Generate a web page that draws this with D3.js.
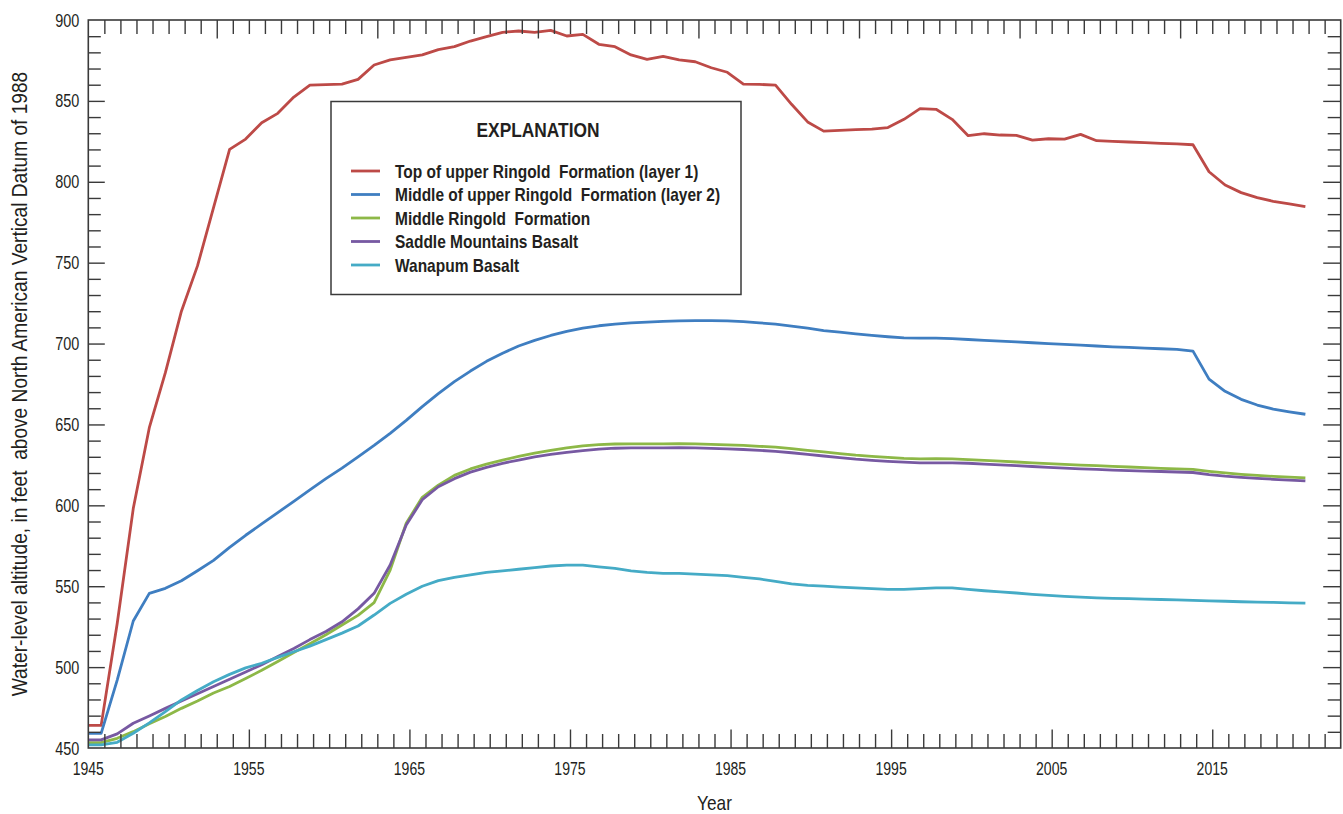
<!DOCTYPE html>
<html>
<head>
<meta charset="utf-8">
<script src="https://cdn.jsdelivr.net/npm/d3@7"></script>
<style>
  html, body { margin: 0; padding: 0; background: #fff; }
  svg { display: block; }
  .lbl { font-family: "Liberation Sans", Arial, sans-serif; fill: #231f20; white-space: pre; }
</style>
</head>
<body>
<svg id="chart" width="1343" height="814"></svg>
<script>
// Annual water-level altitudes (feet, NAVD 88), one value per year 1944-2020.
const years = d3.range(1944, 2021);

const topUpperRingold = [
  464, 464, 527, 598, 648, 682, 720, 748, 784, 820,
  826.4, 836.5, 842.3, 852.4, 859.8, 860, 860.4, 863.3, 872.2, 875.3,
  876.9, 878.4, 881.7, 883.5, 887, 889.7, 892.4, 893.2, 892.4, 893.6,
  890.1, 891.1, 885, 883.5, 878.4, 875.7, 877.5, 875.3, 874.2, 870.5,
  867.7, 860.4, 860.2, 859.8, 847.9, 837, 831.3, 831.8, 832.2, 832.6,
  833.5, 838.6, 845.2, 844.8, 838.6, 828.5, 829.7, 828.9, 828.7, 825.8,
  826.6, 826.4, 829.3, 825.4, 825, 824.6, 824.2, 823.8, 823.4, 822.9,
  806.2, 798, 793.3, 790.2, 787.9, 786.3, 784.6
];

const middleUpperRingold = [
  459, 459, 492, 528.5, 545.6, 548.7, 553.4, 559.6, 566, 574,
  581.5, 588.5, 595.5, 602.5, 609.5, 616.5, 623, 630, 637, 644.5,
  652.5, 661, 669, 676.5, 683, 689, 694, 698.5, 702, 705,
  707.5, 709.5, 711, 712, 712.8, 713.3, 713.7, 714, 714.2, 714.2,
  714, 713.5, 712.8, 712, 710.8, 709.5, 708, 707, 706, 705,
  704.2, 703.5, 703.3, 703.3, 703, 702.5, 702, 701.5, 701, 700.5,
  700, 699.5, 699, 698.5, 698, 697.6, 697.2, 696.8, 696.4, 695.3,
  678, 670.5, 665.5, 662, 659.5, 657.8, 656.3
];

const middleRingold = [
  453.3, 453.3, 456, 460.1, 465, 469.5, 474.5, 479, 484, 488,
  493, 498, 503.5, 509, 514.5, 520, 526, 532, 539.8, 560,
  588.9, 605, 612.5, 618.5, 622.5, 625.5, 628, 630.2, 632.2, 634,
  635.5, 636.8, 637.5, 637.9, 638, 638, 638, 638.2, 638, 637.7,
  637.4, 637, 636.5, 636, 635, 634, 633, 632, 631, 630.3,
  629.6, 629, 628.7, 628.8, 628.7, 628.3, 627.8, 627.3, 626.8, 626.3,
  625.8, 625.3, 624.8, 624.5, 624.1, 623.7, 623.3, 622.9, 622.5, 622.2,
  621, 620, 619.2, 618.5, 617.9, 617.4, 617
];

const saddleMountains = [
  455, 455, 458.7, 465.3, 469.8, 474.5, 479, 483.5, 488, 492.5,
  497, 501.5, 506.5, 511.5, 517, 522, 528, 536, 545.6, 563.1,
  587.8, 603.5, 611.5, 616.5, 620.5, 623.5, 626, 628, 630, 631.5,
  632.8, 633.8, 634.8, 635.3, 635.5, 635.5, 635.5, 635.6, 635.5, 635.2,
  634.9, 634.5, 634, 633.3, 632.5, 631.5, 630.5, 629.5, 628.5, 627.8,
  627.2, 626.7, 626.3, 626.3, 626.2, 626, 625.5, 625, 624.5, 624,
  623.5, 623, 622.5, 622.2, 621.8, 621.5, 621.2, 620.9, 620.6, 620.3,
  619, 618, 617.3, 616.7, 616.1, 615.6, 615.1
];

const wanapum = [
  451.9, 451.9, 453.5, 459.1, 465.5, 472.5, 479.7, 485.5, 491, 495.5,
  499.5, 502.4, 506, 509.5, 513, 517, 521, 525.4, 532.2, 539.4,
  545, 550, 553.5, 555.5, 557, 558.5, 559.5, 560.5, 561.5, 562.5,
  563, 563, 562, 561, 559.5, 558.5, 558, 558, 557.5, 557,
  556.5, 555.5, 554.5, 553, 551.5, 550.5, 550, 549.5, 549, 548.5,
  548, 548, 548.5, 549, 549, 548, 547.2, 546.5, 545.8, 545,
  544.3, 543.7, 543.2, 542.8, 542.5, 542.3, 542, 541.8, 541.5, 541.2,
  541, 540.7, 540.4, 540.2, 540, 539.7, 539.5
];

const seriesNames = [
  "Top of upper Ringold  Formation (layer 1)",
  "Middle of upper Ringold  Formation (layer 2)",
  "Middle Ringold  Formation",
  "Saddle Mountains Basalt",
  "Wanapum Basalt"
];
const seriesValues = [topUpperRingold, middleUpperRingold, middleRingold, saddleMountains, wanapum];
const seriesColors = ["#bd4a47", "#3f7ec1", "#8db847", "#7759a2", "#45abc6"];

const yTicks = [450, 500, 550, 600, 650, 700, 750, 800, 850, 900];
const xTickLabels = [1945, 1955, 1965, 1975, 1985, 1995, 2005, 2015];

// Measurements are taken in the fall, so each annual value sits 0.8 year into its year.
const sampleOffset = 0.8;

const svg = d3.select("#chart");
const plot = { left: 88.3, right: 1340.7, top: 20, bottom: 748 };

const x = d3.scaleLinear().domain([1945, 2023]).range([plot.left, plot.right]);
const y = d3.scaleLinear().domain([450, 900]).range([plot.bottom, plot.top]);

const axisColor = "#3a3a3a";

// Condensed lettering: regular sans squeezed horizontally.
function label(parent, px, py, str, opts) {
  const g = parent.append("g")
    .attr("transform", `translate(${px},${py})${opts.rotate ? " rotate(-90)" : ""} scale(${opts.sx},1)`);
  g.append("text")
    .attr("class", "lbl")
    .attr("xml:space", "preserve")
    .attr("text-anchor", opts.anchor || "start")
    .attr("font-size", opts.size)
    .attr("font-weight", opts.bold ? "bold" : "normal")
    .text(str);
  return g;
}

svg.append("defs").append("clipPath").attr("id", "plotClip")
  .append("rect")
  .attr("x", plot.left).attr("y", plot.top)
  .attr("width", plot.right - plot.left).attr("height", plot.bottom - plot.top);

// Series lines
const line = d3.line()
  .x((d, i) => x(years[i] + sampleOffset))
  .y(d => y(d));

const lines = svg.append("g").attr("clip-path", "url(#plotClip)");
seriesValues.forEach((vals, k) => {
  lines.append("path")
    .datum(vals)
    .attr("fill", "none")
    .attr("stroke", seriesColors[k])
    .attr("stroke-width", 2.8)
    .attr("stroke-linejoin", "round")
    .attr("d", line);
});

// Inward ticks on all four sides
const yearTicks = d3.range(1946, 2023);
const valueTicks = d3.range(460, 900, 10);

function styleAxis(g) {
  g.select(".domain").remove();
  g.selectAll(".tick line").attr("stroke", axisColor).attr("stroke-width", 1.4);
}

// bottom: minor every year, long at 1945 + 10k
svg.append("g")
  .attr("transform", `translate(0,${plot.bottom})`)
  .call(d3.axisTop(x).tickValues(yearTicks).tickFormat("").tickSizeOuter(0).tickSize(14))
  .call(styleAxis)
  .call(g => g.selectAll(".tick line")
    .attr("y2", d => ((d - 1945) % 10 === 0) ? -18.5 : -14));

// top: minor every year, long at 1953 + 10k
svg.append("g")
  .attr("transform", `translate(0,${plot.top})`)
  .call(d3.axisBottom(x).tickValues(yearTicks).tickFormat("").tickSizeOuter(0).tickSize(14))
  .call(styleAxis)
  .call(g => g.selectAll(".tick line")
    .attr("y2", d => ((d - 1953) % 10 === 0) ? 18.5 : 14));

// left
svg.append("g")
  .attr("transform", `translate(${plot.left},0)`)
  .call(d3.axisRight(y).tickValues(valueTicks).tickFormat("").tickSizeOuter(0))
  .call(styleAxis)
  .call(g => g.selectAll(".tick line")
    .attr("x2", d => (d % 50 === 0) ? 16.5 : 12.5));

// right
svg.append("g")
  .attr("transform", `translate(${plot.right},0)`)
  .call(d3.axisLeft(y).tickValues(valueTicks).tickFormat("").tickSizeOuter(0))
  .call(styleAxis)
  .call(g => g.selectAll(".tick line")
    .attr("x2", d => (d % 50 === 0) ? -17.5 : -13));

// frame
svg.append("rect")
  .attr("x", plot.left).attr("y", plot.top)
  .attr("width", plot.right - plot.left).attr("height", plot.bottom - plot.top)
  .attr("fill", "none").attr("stroke", axisColor).attr("stroke-width", 1.6);

// tick labels
const tickLabels = svg.append("g");
yTicks.forEach(v => label(tickLabels, plot.left - 9, y(v) + 6.6, String(v), { size: 18.5, sx: 0.78, anchor: "end" }));
xTickLabels.forEach(v => label(tickLabels, x(v), 774.5, String(v), { size: 18.5, sx: 0.76, anchor: "middle" }));

// axis titles
label(svg, (plot.left + plot.right) / 2, 810, "Year", { size: 21, sx: 0.82, anchor: "middle" });
label(svg, 27, (plot.top + plot.bottom) / 2,
  "Water-level altitude, in feet  above North American Vertical Datum of 1988",
  { size: 21.5, sx: 0.89, anchor: "middle", rotate: true });

// explanation box
const legend = svg.append("g");
legend.append("rect")
  .attr("x", 331).attr("y", 101.5).attr("width", 410).attr("height", 193)
  .attr("fill", "#fff").attr("stroke", axisColor).attr("stroke-width", 1.5);
label(legend, 538, 137, "EXPLANATION", { size: 19.5, sx: 0.89, anchor: "middle", bold: true });

const rowY = d3.scalePoint().domain(seriesNames).range([171, 265]);
seriesNames.forEach((name, k) => {
  const yy = rowY(name);
  legend.append("line")
    .attr("x1", 351).attr("x2", 380).attr("y1", yy).attr("y2", yy)
    .attr("stroke", seriesColors[k]).attr("stroke-width", 2.8);
  label(legend, 395, yy + 6.8, name, { size: 19, sx: 0.815, bold: true });
});
</script>
</body>
</html>
